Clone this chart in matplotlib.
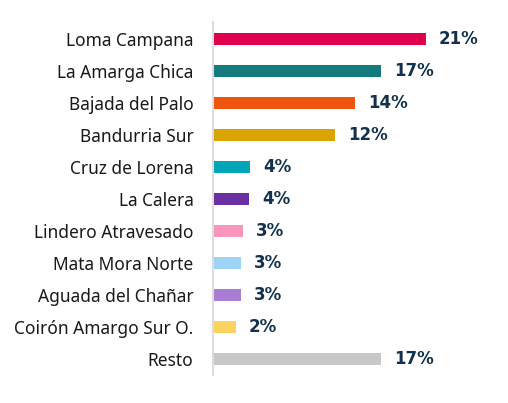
import matplotlib.pyplot as plt

# Data
fields = ['Loma Campana', 'La Amarga Chica', 'Bajada del Palo', 'Bandurria Sur',
          'Cruz de Lorena', 'La Calera', 'Lindero Atravesado', 'Mata Mora Norte',
          'Aguada del Chañar', 'Coirón Amargo Sur O.', 'Resto']
shares = [21.3, 16.8, 14.2, 12.2, 3.7, 3.6, 3.0, 2.8, 2.8, 2.3, 16.8]
labels = ['21%', '17%', '14%', '12%', '4%', '4%', '3%', '3%', '3%', '2%', '17%']
colors = ['#E0004D', '#137B7B', '#F0550F', '#D9A300', '#00A5B8', '#6B2FA0',
          '#F895BC', '#9DD3F5', '#A97DD3', '#FAD45F', '#C8C8C8']

fig = plt.figure(figsize=(5.08, 4.03), dpi=100)
ax = fig.add_axes([213 / 508, 1 - 375 / 403, 270 / 508, (375 - 21.7) / 403])

y = list(range(len(fields)))
ax.barh(y, shares, height=0.35, color=colors)

for yi, v, lab in zip(y, shares, labels):
    ax.text(v + 1.3, yi, lab, va='center', ha='left', fontsize=12,
            fontweight='bold', color='#13314D', family='DejaVu Sans')

ax.set_yticks(y)
ax.set_yticklabels(fields, fontsize=12.5, color='#1a1a1a', family='Noto Sans')
ax.tick_params(axis='y', length=0, pad=14)
ax.set_xticks([])
ax.set_xlim(0, 27)
ax.set_ylim(len(fields) - 0.5, -0.54)

for s in ['top', 'right', 'bottom']:
    ax.spines[s].set_visible(False)
ax.spines['left'].set_color('#DDDDDD')
ax.spines['left'].set_linewidth(1.5)

fig.savefig('out.png', dpi=100)
